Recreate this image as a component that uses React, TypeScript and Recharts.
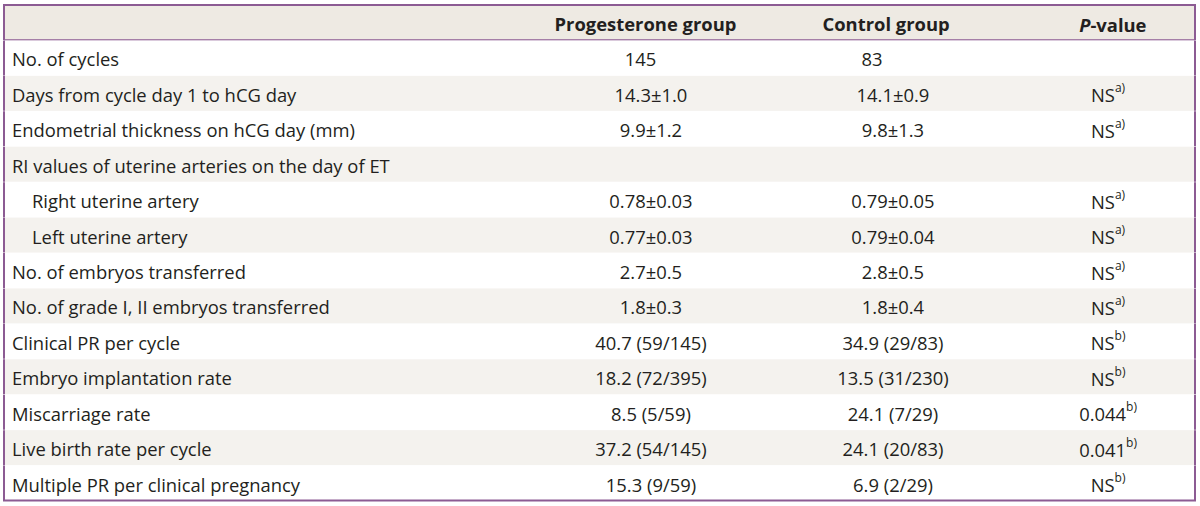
import React from 'react';
import { BarChart, Bar, XAxis, YAxis, Cell, LabelList } from 'recharts';

const headers = ['Progesterone group', 'Control group', 'P-value'];
const rowLabels = [
  'No. of cycles',
  'Days from cycle day 1 to hCG day',
  'Endometrial thickness on hCG day (mm)',
  'RI values of uterine arteries on the day of ET',
  'Right uterine artery',
  'Left uterine artery',
  'No. of embryos transferred',
  'No. of grade I, II embryos transferred',
  'Clinical PR per cycle',
  'Embryo implantation rate',
  'Miscarriage rate',
  'Live birth rate per cycle',
  'Multiple PR per clinical pregnancy',
];
const indented = [false, false, false, false, true, true, false, false, false, false, false, false, false];
const progesterone = ['145\u2007\u2007', '14.3±1.0', '9.9±1.2', '', '0.78±0.03', '0.77±0.03', '2.7±0.5', '1.8±0.3', '40.7 (59/145)', '18.2 (72/395)', '8.5 (5/59)', '37.2 (54/145)', '15.3 (9/59)'];
const control = ['83\u2007\u2007\u2007\u2007', '14.1±0.9', '9.8±1.3', '', '0.79±0.05', '0.79±0.04', '2.8±0.5', '1.8±0.4', '34.9 (29/83)', '13.5 (31/230)', '24.1 (7/29)', '24.1 (20/83)', '6.9 (2/29)'];
const pValues = ['', 'NS', 'NS', '', 'NS', 'NS', 'NS', 'NS', 'NS', 'NS', '0.044', '0.041', 'NS'];
const pNotes = ['', 'a)', 'a)', '', 'a)', 'a)', 'a)', 'a)', 'b)', 'b)', 'b)', 'b)', 'b)'];

const FONT = '"Open Sans", sans-serif';
const TEXT = '#231f20';
const BORDER = '#8c5b93';
const HEAD_BG = '#eeeae3';
const STRIPE = '#f4f2ee';

type Row = { key: string; band: number; label: string; prog: string; ctrl: string; p: string; note: string; indent: boolean; header: boolean };

const data: Row[] = [
  { key: 'header', band: 1, label: '', prog: headers[0], ctrl: headers[1], p: headers[2], note: '', indent: false, header: true },
  ...rowLabels.map((label, i) => ({
    key: 'r' + i,
    band: 1,
    label,
    prog: progesterone[i],
    ctrl: control[i],
    p: pValues[i],
    note: pNotes[i],
    indent: indented[i],
    header: false,
  })),
];

const COLS = { prog: 0.5432, ctrl: 0.7464, p: 0.927 };
const HEAD_COLS = { prog: 0.5386, ctrl: 0.7406, p: 0.931 };

const RowShape = (props: any) => {
  const { x, y, width, height, index } = props;
  const isHeader = index === 0;
  const isLast = index === data.length - 1;
  const fill = isHeader ? HEAD_BG : index % 2 === 0 ? STRIPE : '#ffffff';
  return (
    <g>
      <rect x={x} y={y} width={width} height={height} fill={fill} />
      <line x1={x} y1={y} x2={x} y2={y + height} stroke={BORDER} strokeWidth={2} />
      <line x1={x + width} y1={y} x2={x + width} y2={y + height} stroke={BORDER} strokeWidth={2} />
      {isHeader && <line x1={x - 1} y1={y} x2={x + width + 1} y2={y} stroke={BORDER} strokeWidth={2} />}
      {isHeader && <line x1={x} y1={y + height} x2={x + width} y2={y + height} stroke={BORDER} strokeWidth={1.5} />}
      {isLast && <line x1={x - 1} y1={y + height} x2={x + width + 1} y2={y + height} stroke={BORDER} strokeWidth={2} />}
    </g>
  );
};

const FS = 18.4;

const makeContent = (col: 'label' | 'prog' | 'ctrl' | 'p') => (props: any) => {
  const { x, y, width, height, index } = props;
  const row = data[index];
  if (!row) return null;
  const cy = y + height / 2 + 1;
  const base = { fontFamily: FONT, fontSize: FS, fill: TEXT, dominantBaseline: 'central' as const };
  if (col === 'label') {
    if (!row.label) return null;
    return (
      <text {...base} x={x + (row.indent ? 28 : 8)} y={cy} textAnchor="start">
        {row.label}
      </text>
    );
  }
  if (row.header) {
    const weight = 700;
    if (col === 'p') {
      return (
        <text {...base} fontWeight={weight} x={x + width * HEAD_COLS.p} y={cy} textAnchor="middle">
          <tspan fontStyle="italic">P</tspan>
          <tspan>-value</tspan>
        </text>
      );
    }
    return (
      <text {...base} fontWeight={weight} x={x + width * HEAD_COLS[col]} y={cy} textAnchor="middle">
        {col === 'prog' ? row.prog : row.ctrl}
      </text>
    );
  }
  if (col === 'p') {
    if (!row.p) return null;
    return (
      <text {...base} x={x + width * COLS.p} y={cy} textAnchor="middle">
        <tspan>{row.p}</tspan>
        <tspan fontSize={12} dy={-7}>{row.note}</tspan>
      </text>
    );
  }
  const v = col === 'prog' ? row.prog : row.ctrl;
  if (!v) return null;
  return (
    <text {...base} x={x + width * COLS[col]} y={cy} textAnchor="middle">
      {v}
    </text>
  );
};

export default function App() {
  return (
    <div style={{ position: 'absolute', left: 0, top: 0, width: 1200, height: 506, background: '#ffffff' }}>
      <BarChart
        width={1200}
        height={506}
        data={data}
        layout="vertical"
        margin={{ top: 5, right: 5, bottom: 5, left: 4 }}
        barCategoryGap={0}
      >
        <XAxis type="number" domain={[0, 1]} hide />
        <YAxis type="category" dataKey="key" hide />
        <Bar dataKey="band" isAnimationActive={false} shape={<RowShape />}>
          {data.map((d) => (
            <Cell key={d.key} />
          ))}
          <LabelList dataKey="label" content={makeContent('label')} />
          <LabelList dataKey="prog" content={makeContent('prog')} />
          <LabelList dataKey="ctrl" content={makeContent('ctrl')} />
          <LabelList dataKey="p" content={makeContent('p')} />
        </Bar>
      </BarChart>
    </div>
  );
}
